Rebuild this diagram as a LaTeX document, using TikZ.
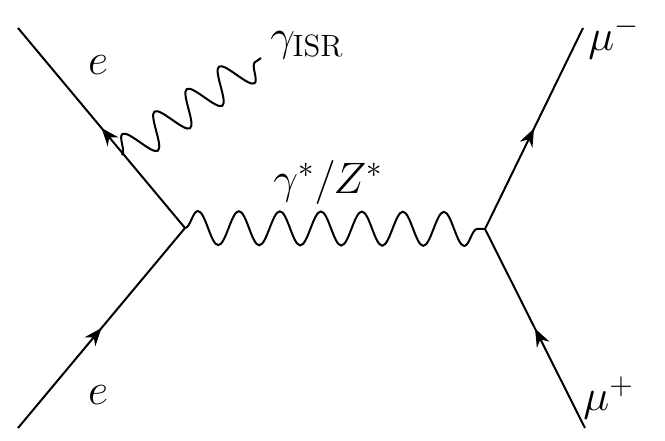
\documentclass[tikz,border=0pt]{standalone}
\usepackage{fix-cm}
\usepackage{amsmath}
\usetikzlibrary{arrows.meta,decorations.markings,decorations.pathmorphing}

\begin{document}
\begin{tikzpicture}[
  x=0.5pt,y=-0.5pt,
  font=\fontsize{22}{26}\selectfont,
  fermion/.style={line width=1pt,postaction={decorate},decoration={markings,mark=at position 0.5 with {\arrow{Stealth[length=9pt,width=7pt,inset=3pt]}}}},
  photon/.style={line width=1pt,decorate,decoration={snake,amplitude=8.5pt,segment length=#1,pre length=0pt,post length=0pt}},
  lbl/.style={inner sep=0pt}
]
\useasboundingbox (0,0) rectangle (665,440);
% vertices and external legs
\coordinate (vin) at (185,228);
\coordinate (vout) at (485,229);
\coordinate (eout) at (18,28);
\coordinate (ein) at (18,428);
\coordinate (mum) at (583,28);
\coordinate (mup) at (585,428);
\coordinate (isrA) at (122,155);
\coordinate (isrB) at (261,58);
\draw[fermion] (vin) -- (eout);
\draw[fermion] (ein) -- (vin);
\draw[fermion] (vout) -- (mum);
\draw[fermion] (mup) -- (vout);
\draw[photon=20.5pt] (vin) -- (vout);
\draw[photon=19.64pt] (isrA) -- (isrB);
% labels
\node[lbl] (le1) at (98,65) {$e$};
\node[lbl] (le2) at (98,395) {$e$};
\node[lbl,anchor=west] (lisr) at (270,45) {$\gamma_{\mathrm{ISR}}$};
\node[lbl] (lgz) at (328,182) {$\gamma^*/Z^*$};
\node[lbl,anchor=west] (lmum) at (588,38) {$\mu^-$};
\node[lbl,anchor=west] (lmup) at (583,398) {$\mu^+$};
\end{tikzpicture}
\end{document}
